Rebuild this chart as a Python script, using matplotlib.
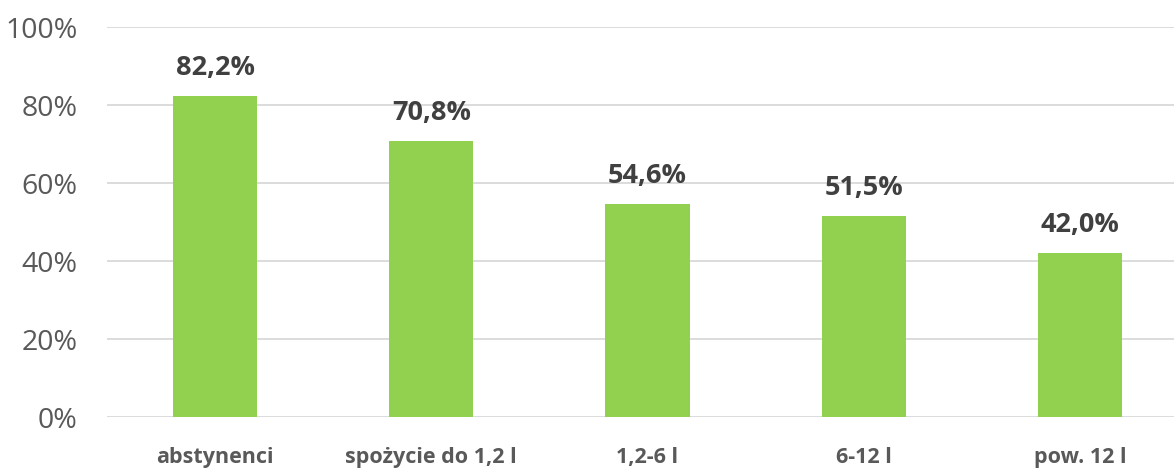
import matplotlib
matplotlib.use("Agg")
import matplotlib.pyplot as plt
from matplotlib.ticker import FuncFormatter

categories = ["abstynenci", "spożycie do 1,2 l", "1,2-6 l", "6-12 l", "pow. 12 l"]
values = [82.2, 70.8, 54.6, 51.5, 42.0]
yticks = [0, 20, 40, 60, 80, 100]

plt.rcParams["font.family"] = ["Open Sans", "DejaVu Sans"]

W, H = 1174, 468
fig = plt.figure(figsize=(W / 100, H / 100), dpi=100)
# axes spans past the right edge so the last category is cut the same way
left, right, top, bottom = 107, 1188, 27, 417
ax = fig.add_axes([left / W, (H - bottom) / H, (right - left) / W, (bottom - top) / H])

x = range(len(categories))
ax.bar(x, values, width=0.39, color="#92D050", zorder=3)
ax.set_xlim(-0.5, len(categories) - 0.5)
ax.set_ylim(0, 100)
ax.set_yticks(yticks)
ax.yaxis.set_major_formatter(FuncFormatter(lambda v, p: f"{v:.0f}%"))
ax.grid(axis="y", color="#D9D9D9", linewidth=1.3, zorder=0)
for s in ax.spines.values():
    s.set_visible(False)
ax.tick_params(axis="both", length=0)
ax.tick_params(axis="y", labelsize=20.5, labelcolor="#595959", pad=21)
ax.set_xticks(list(x))
ax.set_xticklabels(categories, fontsize=15.5, fontweight="bold", color="#595959")
ax.tick_params(axis="x", pad=21.5)

for xi, v in zip(x, values):
    ax.annotate(f"{v:.1f}%".replace(".", ","), (xi, v), xytext=(0, 11),
                textcoords="offset points", ha="center", va="bottom",
                fontsize=19.5, fontweight="bold", color="#404040")

fig.savefig("out.png", dpi=100)
